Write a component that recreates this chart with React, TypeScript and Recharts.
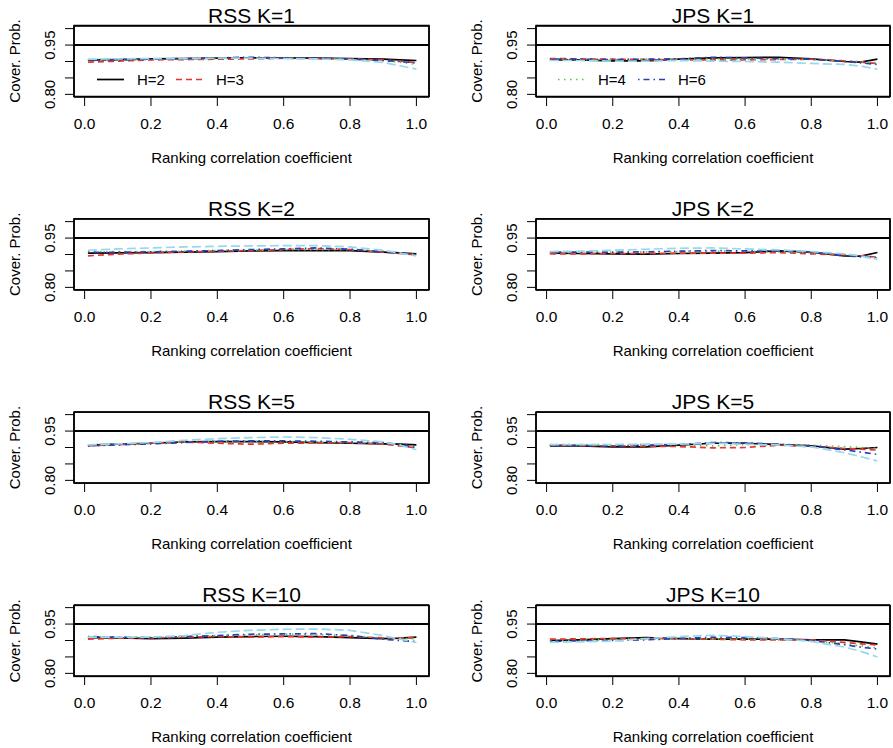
import React from 'react';
import { LineChart, Line, XAxis, YAxis, ReferenceLine } from 'recharts';

// ---------- data ----------
const xs = [0.01, 0.1, 0.2, 0.3, 0.4, 0.5, 0.6, 0.7, 0.8, 0.9, 0.95, 1.0];
const xTicks = [0, 0.2, 0.4, 0.6, 0.8, 1.0];
const yTicks = [0.8, 0.85, 0.9, 0.95, 1.0];
const yLabelled = [0.8, 0.95];
const nominal = 0.95;
const seriesKeys = ['h2', 'h3', 'h4', 'h6', 'h8'];
const seriesNames = ['H=2', 'H=3', 'H=4', 'H=6', 'H=8'];

// RSS K=1
const rssK1_H2 = [0.905, 0.906, 0.908, 0.909, 0.910, 0.911, 0.911, 0.910, 0.909, 0.907, 0.905, 0.903];
const rssK1_H3 = [0.898, 0.901, 0.905, 0.906, 0.907, 0.908, 0.910, 0.909, 0.908, 0.905, 0.901, 0.897];
const rssK1_H4 = [0.903, 0.905, 0.907, 0.908, 0.909, 0.910, 0.910, 0.909, 0.908, 0.902, 0.898, 0.891];
const rssK1_H6 = [0.904, 0.905, 0.907, 0.909, 0.911, 0.913, 0.911, 0.910, 0.907, 0.903, 0.900, 0.896];
const rssK1_H8 = [0.907, 0.908, 0.909, 0.909, 0.910, 0.910, 0.909, 0.908, 0.905, 0.897, 0.887, 0.877];
// JPS K=1
const jpsK1_H2 = [0.905, 0.905, 0.902, 0.902, 0.907, 0.911, 0.912, 0.913, 0.908, 0.900, 0.898, 0.907];
const jpsK1_H3 = [0.909, 0.908, 0.907, 0.906, 0.905, 0.905, 0.905, 0.906, 0.907, 0.902, 0.898, 0.894];
const jpsK1_H4 = [0.906, 0.906, 0.906, 0.907, 0.907, 0.908, 0.907, 0.907, 0.906, 0.902, 0.900, 0.896];
const jpsK1_H6 = [0.907, 0.907, 0.906, 0.907, 0.908, 0.913, 0.911, 0.909, 0.907, 0.900, 0.896, 0.891];
const jpsK1_H8 = [0.903, 0.903, 0.901, 0.901, 0.903, 0.901, 0.900, 0.898, 0.894, 0.891, 0.886, 0.877];
// RSS K=2
const rssK2_H2 = [0.904, 0.905, 0.906, 0.907, 0.909, 0.911, 0.912, 0.912, 0.912, 0.907, 0.905, 0.902];
const rssK2_H3 = [0.896, 0.901, 0.905, 0.908, 0.910, 0.912, 0.915, 0.918, 0.915, 0.907, 0.903, 0.899];
const rssK2_H4 = [0.909, 0.909, 0.909, 0.910, 0.912, 0.913, 0.915, 0.915, 0.915, 0.909, 0.905, 0.900];
const rssK2_H6 = [0.906, 0.907, 0.908, 0.910, 0.912, 0.915, 0.917, 0.920, 0.916, 0.909, 0.904, 0.899];
const rssK2_H8 = [0.913, 0.917, 0.920, 0.923, 0.925, 0.926, 0.927, 0.927, 0.923, 0.913, 0.904, 0.896];
// JPS K=2
const jpsK2_H2 = [0.904, 0.903, 0.902, 0.901, 0.903, 0.904, 0.906, 0.911, 0.907, 0.896, 0.895, 0.906];
const jpsK2_H3 = [0.902, 0.902, 0.903, 0.903, 0.904, 0.904, 0.904, 0.906, 0.902, 0.899, 0.896, 0.892];
const jpsK2_H4 = [0.906, 0.906, 0.907, 0.908, 0.909, 0.910, 0.910, 0.909, 0.906, 0.900, 0.895, 0.889];
const jpsK2_H6 = [0.907, 0.907, 0.907, 0.908, 0.910, 0.912, 0.911, 0.910, 0.908, 0.896, 0.893, 0.890];
const jpsK2_H8 = [0.909, 0.910, 0.913, 0.916, 0.919, 0.920, 0.917, 0.914, 0.909, 0.902, 0.895, 0.886];
// RSS K=5
const rssK5_H2 = [0.907, 0.910, 0.913, 0.917, 0.918, 0.918, 0.917, 0.915, 0.913, 0.911, 0.910, 0.908];
const rssK5_H3 = [0.905, 0.909, 0.913, 0.917, 0.913, 0.910, 0.913, 0.914, 0.915, 0.910, 0.905, 0.899];
const rssK5_H4 = [0.907, 0.910, 0.913, 0.917, 0.918, 0.918, 0.918, 0.917, 0.915, 0.913, 0.909, 0.903];
const rssK5_H6 = [0.905, 0.908, 0.911, 0.915, 0.919, 0.920, 0.920, 0.919, 0.917, 0.915, 0.909, 0.900];
const rssK5_H8 = [0.908, 0.911, 0.915, 0.922, 0.927, 0.930, 0.932, 0.930, 0.925, 0.917, 0.907, 0.893];
// JPS K=5
const jpsK5_H2 = [0.905, 0.905, 0.902, 0.902, 0.907, 0.913, 0.913, 0.909, 0.905, 0.895, 0.897, 0.900];
const jpsK5_H3 = [0.907, 0.906, 0.905, 0.904, 0.903, 0.899, 0.900, 0.907, 0.903, 0.897, 0.895, 0.892];
const jpsK5_H4 = [0.909, 0.909, 0.909, 0.909, 0.909, 0.905, 0.909, 0.909, 0.907, 0.903, 0.900, 0.897];
const jpsK5_H6 = [0.907, 0.906, 0.905, 0.907, 0.909, 0.915, 0.914, 0.910, 0.905, 0.893, 0.886, 0.879];
const jpsK5_H8 = [0.909, 0.909, 0.909, 0.910, 0.910, 0.913, 0.910, 0.908, 0.902, 0.884, 0.872, 0.859];
// RSS K=10
const rssK10_H2 = [0.909, 0.908, 0.906, 0.907, 0.910, 0.912, 0.913, 0.912, 0.909, 0.906, 0.907, 0.910];
const rssK10_H3 = [0.904, 0.907, 0.908, 0.910, 0.912, 0.910, 0.912, 0.910, 0.912, 0.908, 0.908, 0.908];
const rssK10_H4 = [0.910, 0.910, 0.910, 0.912, 0.915, 0.917, 0.919, 0.918, 0.915, 0.907, 0.906, 0.905];
const rssK10_H6 = [0.912, 0.910, 0.909, 0.912, 0.915, 0.919, 0.920, 0.921, 0.915, 0.904, 0.900, 0.897];
const rssK10_H8 = [0.910, 0.910, 0.910, 0.915, 0.925, 0.931, 0.934, 0.935, 0.931, 0.915, 0.904, 0.894];
// JPS K=10
const jpsK10_H2 = [0.900, 0.902, 0.906, 0.909, 0.906, 0.904, 0.904, 0.904, 0.902, 0.902, 0.896, 0.889];
const jpsK10_H3 = [0.904, 0.905, 0.906, 0.906, 0.906, 0.904, 0.902, 0.902, 0.902, 0.894, 0.890, 0.886];
const jpsK10_H4 = [0.899, 0.901, 0.903, 0.905, 0.906, 0.905, 0.904, 0.902, 0.900, 0.890, 0.884, 0.877];
const jpsK10_H6 = [0.897, 0.899, 0.900, 0.902, 0.906, 0.910, 0.909, 0.906, 0.900, 0.887, 0.880, 0.874];
const jpsK10_H8 = [0.894, 0.896, 0.898, 0.906, 0.912, 0.916, 0.912, 0.906, 0.897, 0.880, 0.867, 0.850];

const panelTitles = ['RSS K=1', 'JPS K=1', 'RSS K=2', 'JPS K=2', 'RSS K=5', 'JPS K=5', 'RSS K=10', 'JPS K=10'];
const panelSeries = [
  [rssK1_H2, rssK1_H3, rssK1_H4, rssK1_H6, rssK1_H8],
  [jpsK1_H2, jpsK1_H3, jpsK1_H4, jpsK1_H6, jpsK1_H8],
  [rssK2_H2, rssK2_H3, rssK2_H4, rssK2_H6, rssK2_H8],
  [jpsK2_H2, jpsK2_H3, jpsK2_H4, jpsK2_H6, jpsK2_H8],
  [rssK5_H2, rssK5_H3, rssK5_H4, rssK5_H6, rssK5_H8],
  [jpsK5_H2, jpsK5_H3, jpsK5_H4, jpsK5_H6, jpsK5_H8],
  [rssK10_H2, rssK10_H3, rssK10_H4, rssK10_H6, rssK10_H8],
  [jpsK10_H2, jpsK10_H3, jpsK10_H4, jpsK10_H6, jpsK10_H8],
];

// ---------- styles / layout ----------
const FONT = '"Liberation Sans", Arial, Helvetica, sans-serif';
const seriesColors = ['#000000', '#E8332E', '#5CC84A', '#2B3DB8', '#96D8EC'];
const seriesDash = [undefined, '6 4', '1.5 4.5', '1.5 4 6 4', '9 4'];
const X_DOMAIN: [number, number] = [-0.032, 1.038];
const Y_DOMAIN: [number, number] = [0.792, 1.008];

const COLS = [
  { left: 0, width: 446, yw: 74, mr: 17 },
  { left: 446, width: 447, yw: 90, mr: 3 },
];
const CHART_H = 193;
const M_TOP = 40;
const X_H = 82;
const BOX_H = CHART_H - M_TOP - X_H;
const boxTopOf = (r: number) => 25.5 + 193.3 * r;

const YTick = (props: any) => {
  const { x, y, payload } = props;
  const show = yLabelled.some((v) => Math.abs(v - payload.value) < 1e-9);
  if (!show) return <g />;
  return (
    <text
      x={x}
      y={y}
      transform={`rotate(-90, ${x}, ${y})`}
      textAnchor="middle"
      fontSize={15}
      fontFamily={FONT}
      fill="#000"
    >
      {payload.value.toFixed(2)}
    </text>
  );
};

const XTick = (props: any) => {
  const { x, y, payload } = props;
  return (
    <text x={x} y={y + 11} textAnchor="middle" fontSize={15.5} fontFamily={FONT} fill="#000">
      {payload.value.toFixed(1)}
    </text>
  );
};

function Panel({ idx }: { idx: number }) {
  const r = Math.floor(idx / 2);
  const c = idx % 2;
  const col = COLS[c];
  const top = boxTopOf(r) - M_TOP;
  const series = panelSeries[idx];
  const data = xs.map((x, i) => {
    const row: any = { x };
    seriesKeys.forEach((k, s) => {
      row[k] = series[s][i];
    });
    return row;
  });
  return (
    <div style={{ position: 'absolute', left: col.left, top, width: col.width, height: CHART_H }}>
      <LineChart
        width={col.width}
        height={CHART_H}
        data={data}
        margin={{ top: M_TOP, right: col.mr, bottom: 0, left: 0 }}
      >
        <XAxis
          type="number"
          dataKey="x"
          domain={X_DOMAIN}
          allowDataOverflow
          ticks={xTicks}
          interval={0}
          axisLine={false}
          tickLine={{ stroke: '#000', strokeWidth: 1 }}
          tickSize={9}
          tickMargin={12}
          height={X_H}
          tick={<XTick />}
        />
        <YAxis
          type="number"
          domain={Y_DOMAIN}
          allowDataOverflow
          ticks={yTicks}
          interval={0}
          axisLine={false}
          tickLine={{ stroke: '#000', strokeWidth: 1 }}
          tickSize={9}
          tickMargin={10}
          width={col.yw}
          tick={<YTick />}
        />
        <ReferenceLine x={X_DOMAIN[0]} stroke="#000" strokeWidth={1.5} />
        <ReferenceLine x={X_DOMAIN[1]} stroke="#000" strokeWidth={1.5} />
        <ReferenceLine y={Y_DOMAIN[0]} stroke="#000" strokeWidth={1.5} />
        <ReferenceLine y={Y_DOMAIN[1]} stroke="#000" strokeWidth={1.5} />
        <ReferenceLine y={nominal} stroke="#000" strokeWidth={2} />
        {seriesKeys.map((k, s) => (
          <Line
            key={k}
            type="linear"
            dataKey={k}
            name={seriesNames[s]}
            stroke={seriesColors[s]}
            strokeWidth={1.7}
            strokeDasharray={seriesDash[s]}
            dot={false}
            activeDot={false}
            isAnimationActive={false}
          />
        ))}
      </LineChart>
    </div>
  );
}

function Overlay() {
  const items: React.ReactNode[] = [];
  panelTitles.forEach((title, idx) => {
    const r = Math.floor(idx / 2);
    const c = idx % 2;
    const col = COLS[c];
    const bl = col.left + col.yw;
    const br = col.left + col.width - col.mr;
    const bt = boxTopOf(r);
    const bb = bt + BOX_H;
    const cx = (bl + br) / 2;
    items.push(
      <rect key={`f${idx}`} x={bl} y={bt} width={br - bl} height={BOX_H} fill="none" stroke="#000" strokeWidth={1.5} />
    );
    items.push(
      <text key={`t${idx}`} x={cx} y={bt - 3} textAnchor="middle" fontSize={21} fontFamily={FONT} fill="#000">
        {title}
      </text>
    );
    items.push(
      <text key={`xl${idx}`} x={cx} y={bb + 66} textAnchor="middle" fontSize={15} fontFamily={FONT} fill="#000">
        Ranking correlation coefficient
      </text>
    );
    const yx = bl - 54;
    const yy = bt + BOX_H / 2;
    items.push(
      <text
        key={`yl${idx}`}
        x={yx}
        y={yy}
        transform={`rotate(-90, ${yx}, ${yy})`}
        textAnchor="middle"
        fontSize={15}
        fontFamily={FONT}
        fill="#000"
      >
        Cover. Prob.
      </text>
    );
  });
  const legends = [
    { s: 0, x: 97 },
    { s: 1, x: 176 },
    { s: 2, x: 558 },
    { s: 3, x: 638 },
  ];
  legends.forEach((lg, i) => {
    const y = boxTopOf(0) + 54;
    items.push(
      <line
        key={`ll${i}`}
        x1={lg.x}
        x2={lg.x + 27}
        y1={y}
        y2={y}
        stroke={seriesColors[lg.s]}
        strokeWidth={1.7}
        strokeDasharray={seriesDash[lg.s]}
      />
    );
    items.push(
      <text key={`lt${i}`} x={lg.x + 40} y={y + 5.5} fontSize={15} fontFamily={FONT} fill="#000">
        {seriesNames[lg.s]}
      </text>
    );
  });
  return (
    <svg width={893} height={748} style={{ position: 'absolute', left: 0, top: 0, pointerEvents: 'none' }}>
      {items}
    </svg>
  );
}

export default function App() {
  return (
    <div
      style={{
        position: 'absolute',
        left: 0,
        top: 0,
        width: 893,
        height: 748,
        overflow: 'hidden',
        background: '#fff',
      }}
    >
      {panelTitles.map((_, i) => (
        <Panel key={i} idx={i} />
      ))}
      <Overlay />
    </div>
  );
}
